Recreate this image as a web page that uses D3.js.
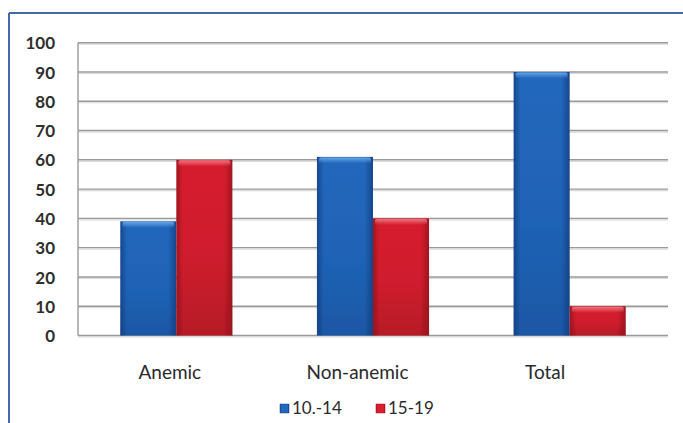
<!DOCTYPE html>
<html>
<head>
<meta charset="utf-8">
<script src="https://cdn.jsdelivr.net/npm/d3@7"></script>
<style>
  html, body { margin: 0; padding: 0; background: #fff; }
  svg { display: block; }
</style>
</head>
<body>
<svg id="chart" width="683" height="423"></svg>
<script>
// Share of adolescents by age group and anaemia status
const categories = ["Anemic", "Non-anemic", "Total"];
const seriesNames = ["10.-14", "15-19"];
const values1014 = [39, 61, 90];
const values1519 = [60, 40, 10];
const yTicks = [0, 10, 20, 30, 40, 50, 60, 70, 80, 90, 100];

const seriesValues = [values1014, values1519];
const seriesColors = [
  { edge: "#17468c", mid: "#2167bc", top: "#6aa8e8", bottomShade: "#0f3a78" },
  { edge: "#a3141f", mid: "#d61f2f", top: "#f07a82", bottomShade: "#7a1018" }
];

const svg = d3.select("#chart");
const font = "Lato, 'Open Sans', sans-serif";

const plot = { left: 78, right: 668, top: 42.7, bottom: 335.5 };

const x0 = d3.scaleBand().domain(categories)
  .range([plot.left, plot.right]).paddingInner(0.43).paddingOuter(0.215);
const x1 = d3.scaleBand().domain(d3.range(seriesNames.length))
  .range([0, x0.bandwidth()]);
const y = d3.scaleLinear().domain([0, 100]).range([plot.bottom, plot.top]);
// category labels sit on their own slightly narrower spacing
const xLabel = d3.scalePoint().domain(categories).range([76, 639]).padding(0.5);

const defs = svg.append("defs");
seriesColors.forEach((c, i) => {
  const h = defs.append("linearGradient").attr("id", "barH" + i)
    .attr("x1", 0).attr("x2", 1).attr("y1", 0).attr("y2", 0);
  h.append("stop").attr("offset", "0%").attr("stop-color", c.edge);
  h.append("stop").attr("offset", "12%").attr("stop-color", c.mid);
  h.append("stop").attr("offset", "85%").attr("stop-color", c.mid);
  h.append("stop").attr("offset", "100%").attr("stop-color", c.edge);
  const v = defs.append("linearGradient").attr("id", "barV" + i)
    .attr("x1", 0).attr("x2", 0).attr("y1", 0).attr("y2", 1);
  v.append("stop").attr("offset", "0%").attr("stop-color", c.bottomShade).attr("stop-opacity", 0);
  v.append("stop").attr("offset", "55%").attr("stop-color", c.bottomShade).attr("stop-opacity", 0.08);
  v.append("stop").attr("offset", "100%").attr("stop-color", c.bottomShade).attr("stop-opacity", 0.35);
  const t = defs.append("linearGradient").attr("id", "barT" + i)
    .attr("x1", 0).attr("x2", 0).attr("y1", 0).attr("y2", 1);
  t.append("stop").attr("offset", "0%").attr("stop-color", c.top).attr("stop-opacity", 0.95);
  t.append("stop").attr("offset", "100%").attr("stop-color", c.top).attr("stop-opacity", 0);
});
defs.append("filter").attr("id", "soft").append("feGaussianBlur").attr("stdDeviation", 0.4);

// outer frame (top and left edges)
svg.append("line").attr("x1", 9).attr("x2", 683).attr("y1", 13).attr("y2", 13)
  .attr("stroke", "#4467ad").attr("stroke-width", 2);
svg.append("line").attr("x1", 9).attr("x2", 9).attr("y1", 13).attr("y2", 423)
  .attr("stroke", "#4467ad").attr("stroke-width", 2);

// gridlines with a faint shadow underneath
const grid = svg.append("g");
grid.selectAll("line.sh").data(yTicks).join("line").attr("class", "sh")
  .attr("x1", plot.left).attr("x2", plot.right)
  .attr("y1", d => y(d) + 1.5).attr("y2", d => y(d) + 1.5)
  .attr("stroke", "#dadada").attr("stroke-width", 1.2);
grid.selectAll("line.g").data(yTicks).join("line").attr("class", "g")
  .attr("x1", plot.left).attr("x2", plot.right)
  .attr("y1", d => y(d)).attr("y2", d => y(d))
  .attr("stroke", "#9a9a9a").attr("stroke-width", 1.4);

// vertical axis line
svg.append("line").attr("x1", plot.left).attr("x2", plot.left)
  .attr("y1", y(100)).attr("y2", y(0))
  .attr("stroke", "#9a9a9a").attr("stroke-width", 1.4);

// y tick labels
const yAxis = d3.axisLeft(y).tickValues(yTicks).tickSize(0).tickPadding(0);
const yg = svg.append("g").attr("transform", "translate(55,0)").call(yAxis);
yg.select(".domain").remove();
yg.selectAll("text").attr("font-family", font).attr("font-size", 17)
  .attr("font-weight", 700).attr("fill", "#2e2e2e").attr("dy", "0.36em");

// bars
const groups = svg.append("g").selectAll("g").data(categories).join("g")
  .attr("transform", d => `translate(${x0(d)},0)`);
const barData = (c, ci) => seriesValues.map((vals, si) => ({ si, v: vals[ci] }));
groups.each(function (c, ci) {
  const g = d3.select(this);
  const bars = g.selectAll("g.bar").data(barData(c, ci)).join("g").attr("class", "bar")
    .attr("filter", "url(#soft)");
  const bw = x1.bandwidth();
  bars.append("rect").attr("x", d => x1(d.si)).attr("width", bw)
    .attr("y", d => y(d.v)).attr("height", d => y(0) - y(d.v))
    .attr("fill", d => `url(#barH${d.si})`);
  bars.append("rect").attr("x", d => x1(d.si)).attr("width", bw)
    .attr("y", d => y(d.v)).attr("height", d => y(0) - y(d.v))
    .attr("fill", d => `url(#barV${d.si})`);
  bars.append("rect").attr("x", d => x1(d.si) + 2).attr("width", bw - 4)
    .attr("y", d => y(d.v) + 0.5).attr("height", 6).attr("rx", 2)
    .attr("fill", d => `url(#barT${d.si})`);
});

// category labels
svg.append("g").selectAll("text").data(categories).join("text")
  .attr("x", d => xLabel(d)).attr("y", 379)
  .attr("text-anchor", "middle").attr("font-family", font).attr("font-size", 19)
  .attr("fill", "#2a2a2a").text(d => d);

// legend
const legend = svg.append("g");
const legendX = [280, 376];
seriesNames.forEach((name, i) => {
  const c = seriesColors[i];
  legend.append("rect").attr("x", legendX[i]).attr("y", 404).attr("width", 9).attr("height", 9)
    .attr("fill", `url(#barH${i})`).attr("stroke", c.edge).attr("stroke-width", 0.5);
  legend.append("text").attr("x", legendX[i] + 12).attr("y", 413.5)
    .attr("font-family", font).attr("font-size", 17).attr("fill", "#2a2a2a").text(name);
});
</script>
</body>
</html>
